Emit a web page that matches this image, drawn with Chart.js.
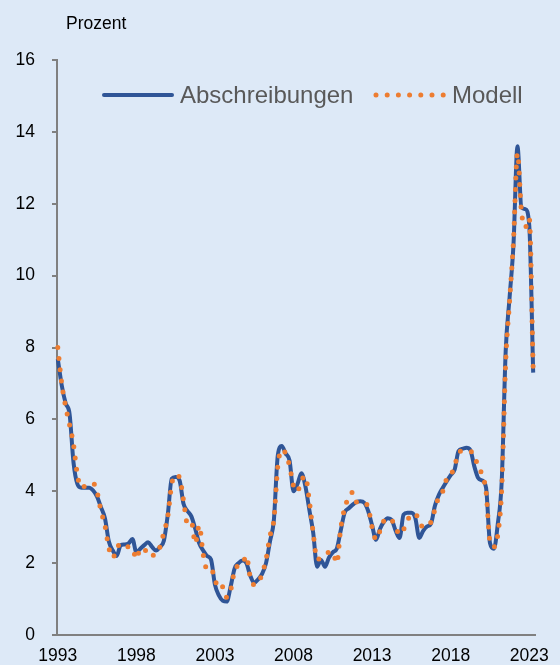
<!DOCTYPE html>
<html lang="de">
<head>
<meta charset="UTF-8" />
<title>Abschreibungen und Modell</title>
<script src="https://cdn.jsdelivr.net/npm/chart.js"></script>
<style>
body { margin: 0; background: #dde9f7; }
#wrap { width: 560px; height: 665px; position: relative; }
</style>
</head>
<body>
<div id="wrap"><canvas id="chart" width="560" height="665"></canvas></div>
<script>
// quarterly values, first quarter 1993 to second quarter 2023 (Prozent)
const startYear = 1993;
const xTickYears = [1993, 1998, 2003, 2008, 2013, 2018, 2023];
const yTicks = [0, 2, 4, 6, 8, 10, 12, 14, 16];

const abschreibungen = [
  7.68, 6.95, 6.45, 6.15,   // 1993
  4.8, 4.2, 4.1, 4.1,       // 1994
  4.1, 4.02, 3.85, 3.55,    // 1995
  3.25, 2.6, 2.35, 2.2,     // 1996
  2.5, 2.52, 2.55, 2.67,    // 1997
  2.3, 2.4, 2.5, 2.58,      // 1998
  2.45, 2.35, 2.45, 2.62,   // 1999
  3.35, 4.35, 4.4, 4.3,     // 2000
  3.65, 3.45, 3.3, 2.95,    // 2001
  2.55, 2.35, 2.2, 2.1,     // 2002
  1.4, 1.1, 0.95, 0.93,     // 2003
  1.35, 1.85, 2.0, 2.07,    // 2004
  2.0, 1.65, 1.45, 1.55,    // 2005
  1.7, 2.0, 2.6, 3.2,       // 2006
  5.0, 5.26, 5.05, 4.85,    // 2007
  4.0, 4.2, 4.5, 4.15,      // 2008
  3.5, 2.85, 1.9, 2.09,     // 2009
  1.9, 2.15, 2.3, 2.4,      // 2010
  2.9, 3.4, 3.52, 3.62,     // 2011
  3.7, 3.72, 3.68, 3.45,    // 2012
  3.05, 2.65, 2.95, 3.15,   // 2013
  3.25, 3.2, 2.9, 2.7,      // 2014
  3.35, 3.4, 3.4, 3.25,     // 2015
  2.7, 2.9, 3.02, 3.1,      // 2016
  3.6, 3.9, 4.1, 4.28,      // 2017
  4.45, 4.6, 5.12, 5.18,    // 2018
  5.21, 5.15, 4.7, 4.37,    // 2019
  4.3, 4.1, 2.56, 2.4,      // 2020
  3.1, 4.3, 7.9, 9.4,       // 2021
  10.9, 13.6, 11.9, 11.85,  // 2022
  11.4, 7.3                 // 2023
];

const modell = [
  8.0, 7.0, 6.35, 5.85,     // 1993
  5.3, 4.45, 4.1, 4.15,     // 1994
  4.18, 4.22, 3.98, 3.45,   // 1995
  3.05, 2.42, 2.15, 2.4,    // 1996
  2.55, 2.5, 2.45, 2.42,    // 1997
  2.12, 2.4, 2.4, 2.2,      // 1998
  2.22, 2.24, 2.45, 2.85,   // 1999
  3.3, 4.2, 4.45, 4.38,     // 2000
  3.75, 3.1, 3.15, 2.55,    // 2001
  3.05, 2.25, 1.83, 1.85,   // 2002
  1.55, 1.28, 1.34, 1.05,   // 2003
  1.25, 1.8, 1.93, 1.97,    // 2004
  2.2, 1.6, 1.4, 1.45,      // 2005
  1.7, 2.1, 2.75, 3.2,      // 2006
  4.7, 5.15, 5.05, 4.7,     // 2007
  4.15, 4.0, 4.3, 4.42,     // 2008
  3.75, 2.85, 2.1, 2.15,    // 2009
  2.2, 2.3, 2.3, 2.0,       // 2010
  2.95, 3.53, 3.81, 3.97,   // 2011
  3.7, 3.7, 3.68, 3.55,     // 2012
  3.0, 2.66, 2.9, 3.18,     // 2013
  3.24, 3.2, 3.0, 2.8,      // 2014
  2.93, 3.21, 3.3, 3.38,    // 2015
  3.16, 3.0, 3.05, 3.15,    // 2016
  3.5, 3.85, 4.0, 4.35,     // 2017
  4.45, 4.7, 5.07, 5.12,    // 2018
  5.12, 5.12, 4.95, 4.72,   // 2019
  4.45, 4.0, 2.6, 2.45,     // 2020
  2.8, 4.1, 7.6, 9.3,       // 2021
  11.0, 13.4, 11.8, 11.35,  // 2022
  11.6, 7.35                // 2023
];

const FONT = 'Liberation Sans, Arial, sans-serif';
const BLUE = '#2f5597';
const ORANGE = '#ed7d31';
const AXIS = '#808080';

function toPoints(values) {
  return values.map((v, i) => ({ x: startYear + i / 4, y: v }));
}

// legend + unit label drawn inside the plot, like the original
const insideLegend = {
  id: 'insideLegend',
  afterDraw(chart) {
    const ctx = chart.ctx;
    const ds = chart.data.datasets;
    ctx.save();
    ctx.fillStyle = '#000';
    ctx.font = '17.5px ' + FONT;
    ctx.textBaseline = 'alphabetic';
    ctx.fillText('Prozent', 66, 29);

    const y = 95;
    ctx.lineWidth = ds[0].borderWidth;
    ctx.strokeStyle = ds[0].borderColor;
    ctx.lineCap = 'round';
    ctx.beginPath();
    ctx.moveTo(104, y);
    ctx.lineTo(172, y);
    ctx.stroke();

    ctx.lineWidth = ds[1].borderWidth;
    ctx.strokeStyle = ds[1].borderColor;
    ctx.setLineDash(ds[1].borderDash);
    ctx.beginPath();
    ctx.moveTo(376, y);
    ctx.lineTo(446, y);
    ctx.stroke();
    ctx.setLineDash([]);

    ctx.fillStyle = '#595959';
    ctx.font = '24px ' + FONT;
    ctx.textBaseline = 'middle';
    ctx.fillText(ds[0].label, 180, y + 1);
    ctx.fillText(ds[1].label, 452, y + 1);
    ctx.restore();
  }
};

new Chart(document.getElementById('chart'), {
  type: 'line',
  data: {
    datasets: [
      {
        label: 'Abschreibungen',
        data: toPoints(abschreibungen),
        borderColor: BLUE,
        borderWidth: 4,
        borderJoinStyle: 'round',
        pointRadius: 0,
        cubicInterpolationMode: 'monotone',
        order: 2,
        clip: false
      },
      {
        label: 'Modell',
        data: toPoints(modell),
        borderColor: ORANGE,
        borderWidth: 5,
        borderDash: [0, 11.2],
        borderCapStyle: 'round',
        pointRadius: 0,
        cubicInterpolationMode: 'monotone',
        order: 1,
        clip: false
      }
    ]
  },
  options: {
    responsive: false,
    animation: false,
    devicePixelRatio: 1,
    layout: { padding: { top: 60, right: 20, bottom: 0, left: 0 } },
    plugins: {
      legend: { display: false },
      tooltip: { enabled: false }
    },
    scales: {
      x: {
        type: 'linear',
        min: 1992.95,
        max: 2023.42,
        afterBuildTicks: s => { s.ticks = xTickYears.map(v => ({ value: v })); },
        afterFit: s => { s.height = 30; },
        grid: { display: false, drawTicks: false },
        border: { color: AXIS, width: 2 },
        ticks: {
          autoSkip: false,
          maxRotation: 0,
          padding: 11,
          color: '#000',
          font: { family: FONT, size: 17.5 },
          callback: v => String(v)
        }
      },
      y: {
        min: 0,
        max: 16,
        afterBuildTicks: s => { s.ticks = yTicks.map(v => ({ value: v })); },
        afterFit: s => { s.width = 57; },
        grid: {
          drawOnChartArea: false,
          drawTicks: true,
          tickLength: 5,
          color: AXIS,
          lineWidth: 2
        },
        border: { color: AXIS, width: 2 },
        ticks: {
          padding: 17,
          color: '#000',
          font: { family: FONT, size: 17.5 }
        }
      }
    }
  },
  plugins: [insideLegend]
});
</script>
</body>
</html>
